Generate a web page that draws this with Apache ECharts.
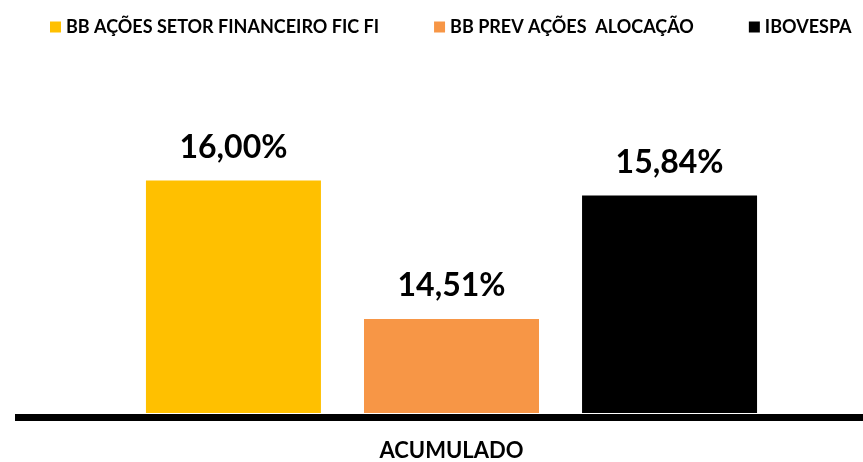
<!DOCTYPE html>
<html lang="pt">
<head>
    <meta charset="UTF-8">
    <title>Acumulado</title>
    <style>
        * { margin: 0; padding: 0; }
        body { background-color: #fff; }
        #chart { width: 863px; height: 462px; }
    </style>
</head>
<body>
<div id="chart"></div>
<script src="https://cdn.jsdelivr.net/npm/echarts@6/dist/echarts.min.js"></script>
<script>
    var categories = ['ACUMULADO'];
    var seriesNames = ['BB AÇÕES SETOR FINANCEIRO FIC FI', 'BB PREV AÇÕES  ALOCAÇÃO', 'IBOVESPA'];
    var fundoFinanceiro = [16.00];
    var prevAlocacao = [14.51];
    var ibovespa = [15.84];
    var colors = ['#ffc000', '#f79646', '#000000'];

    var chart = echarts.init(document.getElementById('chart'));
    var font = 'Lato';

    function makeSeries(name, data) {
        return {
            name: name,
            type: 'bar',
            data: data,
            barWidth: 175,
            barGap: '24.6%',
            label: {
                show: true,
                position: 'top',
                distance: 17,
                fontFamily: font,
                fontWeight: 'bold',
                fontSize: 32,
                color: '#000',
                formatter: function (p) {
                    return p.value.toFixed(2).replace('.', ',') + '%';
                }
            }
        };
    }

    chart.setOption({
        color: colors,
        backgroundColor: '#fff',
        animation: false,
        legend: {
            top: 18,
            left: 50,
            width: 813,
            padding: 0,
            itemWidth: 11,
            itemHeight: 11,
            itemGap: 55,
            icon: 'rect',
            textStyle: {
                fontFamily: font,
                fontWeight: 'bold',
                fontSize: 18,
                color: '#000'
            },
            data: seriesNames
        },
        grid: {
            left: 40,
            right: 0,
            top: 134,
            bottom: 44
        },
        xAxis: {
            type: 'category',
            data: categories,
            axisLine: { show: false },
            axisTick: { show: false },
            axisLabel: {
                margin: 27,
                fontFamily: font,
                fontWeight: 'bold',
                fontSize: 22,
                color: '#000'
            }
        },
        yAxis: {
            type: 'value',
            min: 13.5,
            max: 16.5,
            show: false,
            splitLine: { show: false }
        },
        graphic: [{
            type: 'rect',
            z: 100,
            shape: { x: 15, y: 414, width: 848, height: 7 },
            style: { fill: '#000' }
        }],
        series: [
            makeSeries(seriesNames[0], fundoFinanceiro),
            makeSeries(seriesNames[1], prevAlocacao),
            makeSeries(seriesNames[2], ibovespa)
        ]
    });
</script>
</body>
</html>
